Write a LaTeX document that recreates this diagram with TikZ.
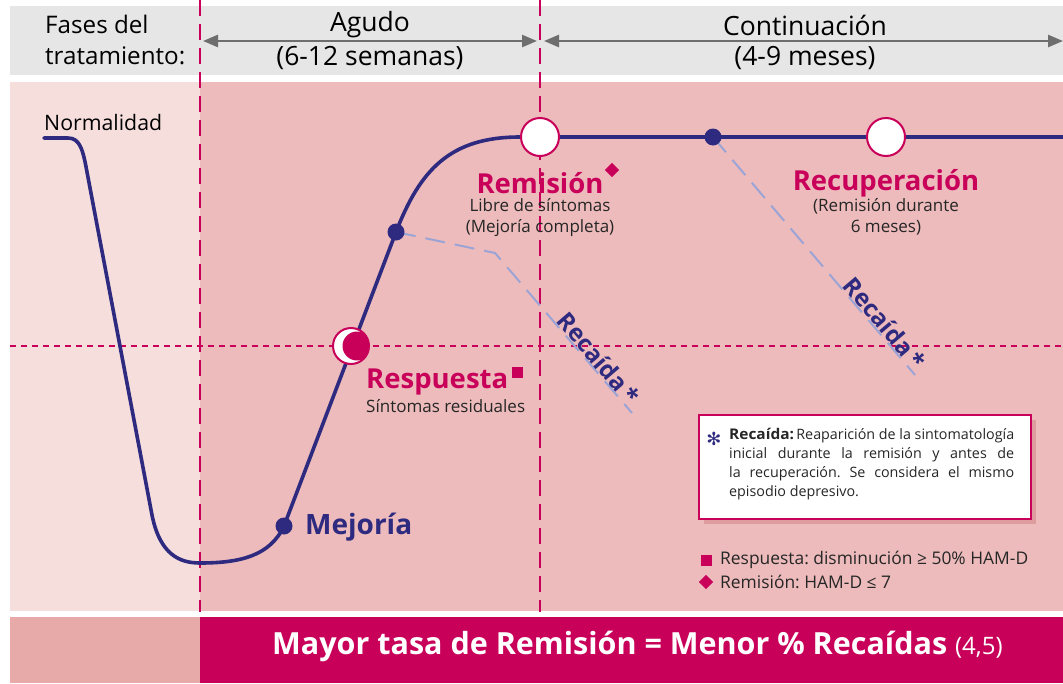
\documentclass[tikz,border=0pt]{standalone}
\usepackage{fontspec}
\setmainfont{Open Sans}
\newfontfamily\djv{DejaVu Sans}
\usetikzlibrary{arrows.meta,calc}
\definecolor{mag}{HTML}{C8005A}
\definecolor{ind}{HTML}{2E2A80}
\definecolor{lpink}{HTML}{F6DEDD}
\definecolor{mpink}{HTML}{EDBBBB}
\definecolor{bpink}{HTML}{E8A9A9}
\definecolor{hgray}{HTML}{E6E6E6}
\definecolor{agray}{HTML}{6E6E6E}
\definecolor{rel}{HTML}{9CA4D6}
\definecolor{shad}{HTML}{DE9C9F}
\frenchspacing
\begin{document}
\begin{tikzpicture}[x=1pt,y=-1pt,
  hdr/.style={font=\fontsize{26.5}{30}\selectfont, text=black, inner sep=0pt},
  phasearrow/.style={agray, line width=2.6pt, {Triangle[length=15pt,width=12pt]}-{Triangle[length=15pt,width=12pt]}},
  vdash/.style={mag, line width=2.8pt, dash pattern=on 16pt off 8pt},
  hdot/.style={mag, line width=2.8pt, dash pattern=on 6pt off 5pt},
  curve/.style={ind, line width=3.6pt, line cap=round, line join=round},
  relapse/.style={rel, line width=2pt, dash pattern=on 20pt off 10pt},
  bigcirc/.style={circle, draw=mag, line width=2pt, fill=white, minimum size=38pt, inner sep=0pt},
  bluedot/.style={circle, fill=ind, minimum size=17pt, inner sep=0pt},
  titlemag/.style={font=\fontsize{27.5}{30}\bfseries\selectfont, text=mag, inner sep=0pt},
  sub/.style={font=\fontsize{17}{21}\selectfont, text=black!85, align=center, inner sep=0pt},
  relab/.style={font=\fontsize{24}{26}\bfseries\selectfont, text=ind, inner sep=0pt},
  legtxt/.style={font=\fontsize{17.4}{20}\selectfont, text=black!85, inner sep=0pt, anchor=west},
  sqmark/.style={fill=mag, minimum size=11pt, inner sep=0pt}
]
\useasboundingbox (0,0) rectangle (1063,683);
% backgrounds
\fill[hgray] (10,6) rectangle (1063,75);
\fill[lpink] (10,82) rectangle (200,611);
\fill[mpink] (200,82) rectangle (1063,611);
\fill[bpink] (10,617) rectangle (200,683);
\fill[mag] (200,617) rectangle (1063,683);
% grid lines
\coordinate (v1t) at (200,0); \coordinate (v1b) at (200,612);
\coordinate (v2t) at (540,0); \coordinate (v2b) at (540,612);
\coordinate (hl) at (10,346); \coordinate (hr) at (1063,346);
\draw[hdot] (hl) -- (hr);
\draw[vdash] (v1t) -- (v1b);
\draw[vdash] (v2t) -- (v2b);
% header
\node[hdr, anchor=west, align=left, font=\fontsize{24.2}{31}\selectfont] (fases) at (45,40) {Fases del\\tratamiento:};
\node[hdr] (agudo) at (370,25) {Agudo};
\node[hdr] (agudos) at (370,58) {(6-12 semanas)};
\node[hdr] (cont) at (805,25) {Continuación};
\node[hdr] (conts) at (805,58) {(4-9 meses)};
\coordinate (a1l) at (203,41); \coordinate (a1r) at (537,41);
\coordinate (a2l) at (544,41); \coordinate (a2r) at (1063,41);
\draw[phasearrow] (a1l) -- (a1r);
\draw[phasearrow] (a2l) -- (a2r);
% curve
\coordinate (p0) at (44,138);
\coordinate (mej) at (284,526);
\coordinate (d1) at (396,232);
\coordinate (rem) at (540,137);
\coordinate (d2) at (713,137);
\coordinate (rec) at (886,137);
\coordinate (pend) at (1063,137);
\coordinate (resp) at (351,346);
\draw[curve] (p0) -- (68,138) .. controls (80,138) and (83,150) .. (87,172) -- (152,515)
  .. controls (160,555) and (180,563) .. (200,563)
  .. controls (240,563) and (270,556) .. (mej) -- (d1)
  .. controls (420,170) and (450,137) .. (520,137) -- (pend);
% relapse lines
\coordinate (r1m) at (495,253); \coordinate (r1e) at (632,413);
\coordinate (r2e) at (915,375);
\draw[relapse] (d1) -- (r1m) -- (r1e);
\draw[relapse] (d2) -- (r2e);
\path (r1m) -- (r1e) node[relab, pos=0.7, sloped, above=1pt] (rl1) {Recaída\,*};
\path (d2) -- (r2e) node[relab, pos=0.81, sloped, above=1pt] (rl2) {Recaída\,*};
% markers
\node[bluedot] (mejdot) at (mej) {};
\node[bluedot] (d1dot) at (d1) {};
\node[bluedot] (d2dot) at (d2) {};
\node[bigcirc] (remc) at (rem) {};
\node[bigcirc] (recc) at (rec) {};
\begin{scope}
  \clip (resp) circle (18pt);
  \fill[white] (resp) circle (18pt);
  \fill[mag] ($(resp)+(6,0)$) circle (14.5pt);
\end{scope}
\node[circle, draw=mag, line width=2pt, minimum size=36pt, inner sep=0pt] (respc) at (resp) {};
% labels
\node[font=\fontsize{21.3}{24}\selectfont, anchor=west, inner sep=0pt] (norm) at (44,123) {Normalidad};
\node[titlemag] (remt) at (540,183) {Remisión};
\node[sqmark, rotate=45, minimum size=10pt] (remd) at (612,170) {};
\node[sub] (rems) at (540,218) {Libre de síntomas\\(Mejoría completa)};
\node[titlemag, anchor=west] (respt) at (366,382) {Respuesta};
\node[sqmark] (respsq) at (517,372) {};
\node[sub, anchor=west] (resps) at (366,406) {Síntomas residuales};
\node[font=\fontsize{28}{30}\bfseries\selectfont, text=ind, anchor=west, inner sep=0pt] (mejt) at (305,527) {Mejoría};
\node[titlemag] (rect) at (886,183) {Recuperación};
\node[sub] (recs) at (886,217) {(Remisión durante\\6 meses)};
% legend box
\fill[shad] (704,420) rectangle (1036,524);
\node[draw=mag, line width=1.6pt, fill=white, minimum width=332pt, minimum height=104pt, anchor=north west, inner sep=0pt] (box) at (698,414) {};
\node[text=ind, font=\djv\fontsize{18}{18}\bfseries\selectfont, inner sep=0pt] (ast) at (714,439) {✻};
\node[anchor=north west, inner sep=0pt, font=\fontsize{14.3}{19}\selectfont, text=black!85, align=left] (boxt) at (729,428) {%
\makebox[285pt][s]{\scalebox{1.08}[1.03]{\textbf{Recaída:}}\,Reaparición de la sintomatología}\\
\makebox[285pt][s]{inicial durante la remisión y antes de}\\
\makebox[285pt][s]{la recuperación. Se considera el mismo}\\
episodio depresivo.};
\node[sqmark] (lsq) at (706,560) {};
\node[legtxt] (l1) at (720,560) {Respuesta: disminución ≥ 50\% HAM-D};
\node[sqmark, rotate=45, minimum size=10pt] (ldi) at (706,582) {};
\node[legtxt] (l2) at (720,582) {Remisión: HAM-D ≤ 7};
% bottom
\node[text=white, inner sep=0pt, anchor=west] (bot) at (272,646) {\fontsize{30.5}{33}\bfseries\selectfont Mayor tasa de Remisión = Menor \% Recaídas \fontsize{24}{26}\mdseries\selectfont(4,5)};
\end{tikzpicture}
\end{document}
